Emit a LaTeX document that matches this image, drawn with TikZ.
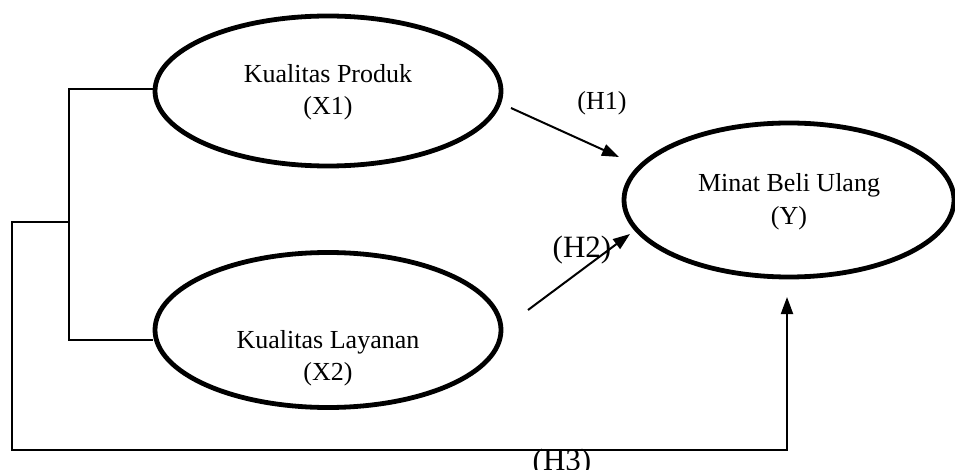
\documentclass[tikz,border=0pt]{standalone}
\usepackage{fontspec}
\setmainfont{Liberation Serif}
\usetikzlibrary{shapes.geometric,arrows.meta}
\begin{document}
\begin{tikzpicture}[x=1pt,y=-1pt,
  latent/.style={ellipse,draw,line width=4.8pt,inner sep=0pt},
  conn/.style={line width=2pt},
  arr/.style={line width=2pt,-{Triangle[length=17pt,width=12pt]}},
  lbl/.style={anchor=base,inner sep=0pt,font=\fontsize{26}{30}\selectfont},
  hlbl/.style={anchor=base,inner sep=0pt,font=\fontsize{31}{36}\selectfont}]
\useasboundingbox (0,0) rectangle (955,470);
\node[latent,minimum width=346pt,minimum height=150pt] (x1) at (328,91) {};
\node[latent,minimum width=346pt,minimum height=155pt] (x2) at (328,330) {};
\node[latent,minimum width=330pt,minimum height=154pt] (y) at (789,200) {};
\node[lbl] (t1a) at (328,83) {Kualitas Produk};
\node[lbl] (t1b) at (328,115) {(X1)};
\node[lbl] (t2a) at (328,348) {Kualitas Layanan};
\node[lbl] (t2b) at (328,380) {(X2)};
\node[lbl] (tya) at (789,192) {Minat Beli Ulang};
\node[lbl] (tyb) at (789,225) {(Y)};
\coordinate (b1) at (69,89);
\coordinate (b2) at (69,340);
\coordinate (jn) at (69,222);
\coordinate (c1) at (12,222);
\coordinate (c2) at (12,450);
\coordinate (c3) at (787,450);
\coordinate (h3end) at (787,297);
\coordinate (h1s) at (511,108);
\coordinate (h1e) at (619,157);
\coordinate (h2s) at (528,310);
\coordinate (h2e) at (630,234);
\draw[conn] ([yshift=2pt]x1.west) -- (b1) -- (b2) -- ([yshift=-10pt]x2.west);
\draw[arr] (jn) -- (c1) -- (c2) -- (c3) -- (h3end);
\draw[arr] (h1s) -- (h1e);
\draw[arr] (h2s) -- (h2e);
\node[lbl] (h1) at (602,110) {(H1)};
\node[hlbl] (h2) at (582,258) {(H2)};
\node[hlbl] (h3) at (562,470) {(H3)};
\end{tikzpicture}
\end{document}
